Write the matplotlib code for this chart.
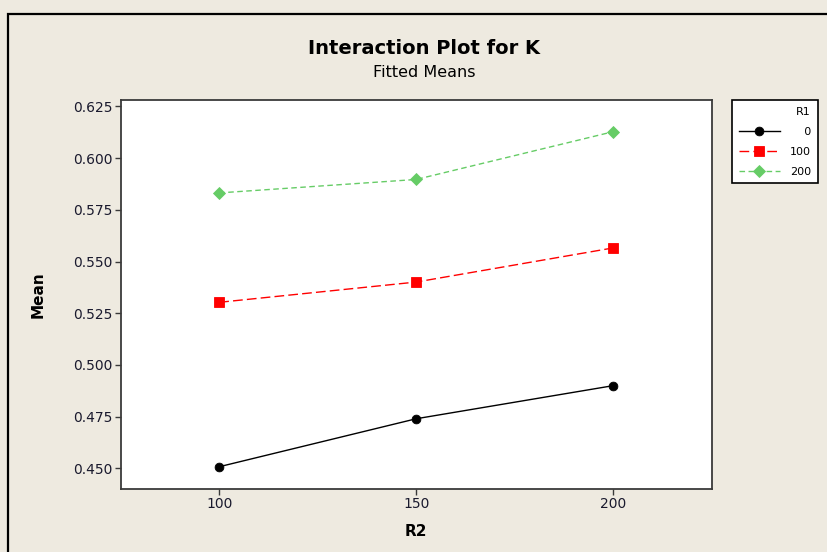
import matplotlib.pyplot as plt
from matplotlib.patches import Rectangle

# Fitted means of K for each R1 level across R2
r2_levels = [100, 150, 200]
r1_levels = [0, 100, 200]
mean_r1_0 = [0.4508, 0.4740, 0.4900]
mean_r1_100 = [0.5303, 0.5401, 0.5566]
mean_r1_200 = [0.5832, 0.5897, 0.6128]
y_ticks = [0.450, 0.475, 0.500, 0.525, 0.550, 0.575, 0.600, 0.625]
x_ticks = [100, 150, 200]

BG = "#eeeae0"
SPINE = "#3a3a3a"

fig = plt.figure(figsize=(8.27, 5.52), dpi=100, facecolor=BG)
ax = fig.add_axes([0.146, 0.114, 0.7145, 0.704])
ax.set_facecolor("white")

# outer frame around the whole graph window
frame = Rectangle((8 / 827, -0.2), 1.5, 1.2 - 14 / 552,
                  transform=fig.transFigure, fill=False,
                  edgecolor="black", linewidth=1.6, clip_on=False)
fig.patches.append(frame)

series = [
    (mean_r1_0, dict(color="black", marker="o", markersize=6.3,
                     linestyle="-", linewidth=1.0)),
    (mean_r1_100, dict(color="#ff0000", marker="s", markersize=6.8,
                       linestyle=(0, (7, 3)), linewidth=1.0)),
    (mean_r1_200, dict(color="#66cc66", marker="D", markersize=6.3,
                       linestyle=(0, (4, 2.5)), linewidth=1.0)),
]
for level, (vals, style) in zip(r1_levels, series):
    label = f"{level:\u2007>3}"
    ax.plot(r2_levels, vals, label=label, markeredgewidth=0.6,
            markeredgecolor=style["color"], **style)

ax.set_xlim(75, 225)
ax.set_ylim(0.4400, 0.6279)
ax.set_xticks(x_ticks)
ax.set_yticks(y_ticks)
ax.set_yticklabels([f"{v:.3f}" for v in y_ticks])
ax.tick_params(direction="out", length=4, width=1.0, color=SPINE,
               labelsize=10, labelcolor="#1a1a2e", pad=2)
for sp in ax.spines.values():
    sp.set_color(SPINE)
    sp.set_linewidth(1.3)

ax.set_xlabel("R2", fontsize=11, fontweight="bold", labelpad=9)
ax.set_ylabel("Mean", fontsize=11, fontweight="bold", labelpad=20)

fig.text(0.513, 0.912, "Interaction Plot for K", ha="center", va="center",
         fontsize=14, fontweight="bold")
fig.text(0.513, 0.869, "Fitted Means", ha="center", va="center",
         fontsize=11.5)

leg = ax.legend(title="R1", loc="upper left",
                bbox_to_anchor=(732 / 827, 1 - 100 / 552),
                bbox_transform=fig.transFigure,
                fontsize=8, title_fontsize=8, alignment="right",
                frameon=True, fancybox=False, edgecolor="black",
                facecolor="white", framealpha=1,
                handlelength=3.7, handletextpad=0.9, borderpad=0.6,
                labelspacing=0.9, borderaxespad=0)
leg.get_frame().set_linewidth(1.2)

fig.savefig("out.png", dpi=100, facecolor=BG)
